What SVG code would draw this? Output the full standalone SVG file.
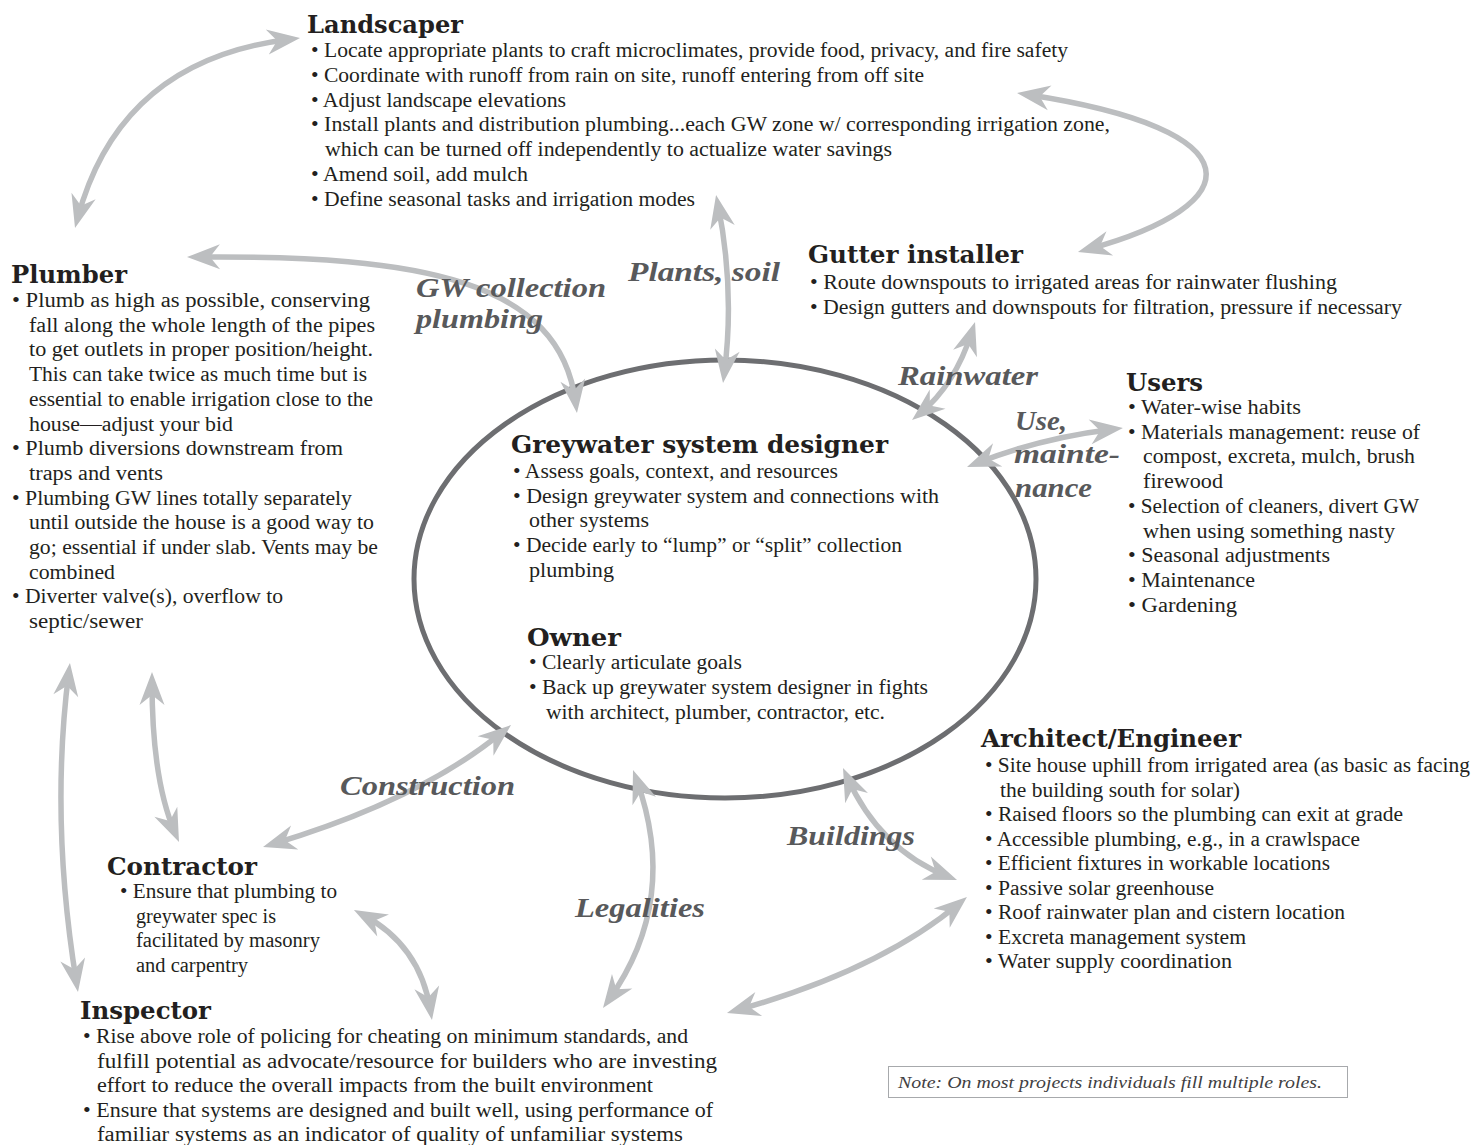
<svg xmlns="http://www.w3.org/2000/svg" width="1483" height="1145" viewBox="0 0 1483 1145">
<style>
.b{font-family:"Liberation Serif","DejaVu Serif",serif;font-size:20.5px;fill:#231f20}
.h{font-family:"DejaVu Serif","Liberation Serif",serif;font-weight:bold;font-size:25px;fill:#231f20}
.l{font-family:"Liberation Serif","DejaVu Serif",serif;font-weight:bold;font-style:italic;font-size:28px;fill:#58595b}
.n{font-family:"Liberation Serif","DejaVu Serif",serif;font-style:italic;font-size:17px;fill:#414042}
.c{fill:none;stroke:#bcbec0;stroke-width:5.5;marker-start:url(#ah);marker-end:url(#ah)}
</style>
<defs>
<marker id="ah" markerUnits="userSpaceOnUse" viewBox="-36 -16 40 32" markerWidth="40" markerHeight="32" refX="-10" refY="0" orient="auto-start-reverse" overflow="visible">
<path d="M0,0 L-33,-12.5 L-23,0 L-33,12.5 Z" fill="#bcbec0"/>
</marker>
</defs>
<rect width="1483" height="1145" fill="#ffffff"/>
<g id="center">
<ellipse cx="725" cy="579" rx="311" ry="219" fill="none" stroke="#6d6e71" stroke-width="5"/>
</g>
<g id="connectors">
<path class="c" d="M77.6,218.3 Q120,60 290.1,39.2"/>
<path class="c" d="M1026.9,94.5 C1260,130 1250,205 1087.6,249.4"/>
<path class="c" d="M197,257 C420,255 560,280 575.7,403"/>
<path class="c" d="M718,204.8 Q735,290 724.3,373"/>
<path class="c" d="M972,331.5 Q955,385 919.8,413.7"/>
<path class="c" d="M976.3,463.3 Q1040,438 1113,429.2"/>
<path class="c" d="M152,682 Q152,780 175,832.8"/>
<path class="c" d="M68.7,672.9 Q50,820 76.4,982.1"/>
<path class="c" d="M272.6,844.1 Q420,800 503.3,731.4"/>
<path class="c" d="M362.8,914.7 Q420,945 430.4,1010.1"/>
<path class="c" d="M636.4,779.4 Q680,900 608.8,999.9"/>
<path class="c" d="M847.1,777.1 Q880,850 947.7,876.4"/>
<path class="c" d="M736.6,1010.3 Q880,970 959.3,903.4"/>
</g>
<g id="connector-labels">
<text class="l" x="416" y="297" textLength="190" lengthAdjust="spacingAndGlyphs">GW collection</text>
<text class="l" x="416" y="328" textLength="127" lengthAdjust="spacingAndGlyphs">plumbing</text>
<text class="l" x="628" y="281" textLength="152" lengthAdjust="spacingAndGlyphs">Plants, soil</text>
<text class="l" x="898" y="385" textLength="140" lengthAdjust="spacingAndGlyphs">Rainwater</text>
<text class="l" x="1015" y="430" textLength="52" lengthAdjust="spacingAndGlyphs">Use,</text>
<text class="l" x="1014" y="463" textLength="106" lengthAdjust="spacingAndGlyphs">mainte-</text>
<text class="l" x="1015" y="497" textLength="77" lengthAdjust="spacingAndGlyphs">nance</text>
<text class="l" x="340" y="795" textLength="175" lengthAdjust="spacingAndGlyphs">Construction</text>
<text class="l" x="787" y="845" textLength="128" lengthAdjust="spacingAndGlyphs">Buildings</text>
<text class="l" x="575" y="917" textLength="130" lengthAdjust="spacingAndGlyphs">Legalities</text>
</g>
<g id="landscaper">
<text class="h" x="307" y="33" textLength="156" lengthAdjust="spacingAndGlyphs">Landscaper</text>
<text class="b" x="311" y="57" textLength="757" lengthAdjust="spacingAndGlyphs">• Locate appropriate plants to craft microclimates, provide food, privacy, and fire safety</text>
<text class="b" x="311" y="82" textLength="613" lengthAdjust="spacingAndGlyphs">• Coordinate with runoff from rain on site, runoff entering from off site</text>
<text class="b" x="311" y="106.5" textLength="255" lengthAdjust="spacingAndGlyphs">• Adjust landscape elevations</text>
<text class="b" x="311" y="131" textLength="799" lengthAdjust="spacingAndGlyphs">• Install plants and distribution plumbing...each GW zone w/ corresponding irrigation zone,</text>
<text class="b" x="325" y="156" textLength="567" lengthAdjust="spacingAndGlyphs">which can be turned off independently to actualize water savings</text>
<text class="b" x="311" y="181" textLength="217" lengthAdjust="spacingAndGlyphs">• Amend soil, add mulch</text>
<text class="b" x="311" y="205.5" textLength="384" lengthAdjust="spacingAndGlyphs">• Define seasonal tasks and irrigation modes</text>
</g>
<g id="plumber">
<text class="h" x="11" y="283" textLength="116" lengthAdjust="spacingAndGlyphs">Plumber</text>
<text class="b" x="12" y="307" textLength="358" lengthAdjust="spacingAndGlyphs">• Plumb as high as possible, conserving</text>
<text class="b" x="29" y="331.7" textLength="346" lengthAdjust="spacingAndGlyphs">fall along the whole length of the pipes</text>
<text class="b" x="29" y="356.4" textLength="344" lengthAdjust="spacingAndGlyphs">to get outlets in proper position/height.</text>
<text class="b" x="29" y="381.1" textLength="338" lengthAdjust="spacingAndGlyphs">This can take twice as much time but is</text>
<text class="b" x="29" y="405.8" textLength="344" lengthAdjust="spacingAndGlyphs">essential to enable irrigation close to the</text>
<text class="b" x="29" y="430.5" textLength="204" lengthAdjust="spacingAndGlyphs">house—adjust your bid</text>
<text class="b" x="12" y="455.2" textLength="331" lengthAdjust="spacingAndGlyphs">• Plumb diversions downstream from</text>
<text class="b" x="29" y="479.9" textLength="134" lengthAdjust="spacingAndGlyphs">traps and vents</text>
<text class="b" x="12" y="504.6" textLength="340" lengthAdjust="spacingAndGlyphs">• Plumbing GW lines totally separately</text>
<text class="b" x="29" y="529.3" textLength="345" lengthAdjust="spacingAndGlyphs">until outside the house is a good way to</text>
<text class="b" x="29" y="554" textLength="349" lengthAdjust="spacingAndGlyphs">go; essential if under slab. Vents may be</text>
<text class="b" x="29" y="578.7" textLength="86" lengthAdjust="spacingAndGlyphs">combined</text>
<text class="b" x="12" y="603.4" textLength="271" lengthAdjust="spacingAndGlyphs">• Diverter valve(s), overflow to</text>
<text class="b" x="29" y="628.1" textLength="114" lengthAdjust="spacingAndGlyphs">septic/sewer</text>
</g>
<g id="gutter-installer">
<text class="h" x="808" y="263" textLength="215" lengthAdjust="spacingAndGlyphs">Gutter installer</text>
<text class="b" x="810" y="289" textLength="527" lengthAdjust="spacingAndGlyphs">• Route downspouts to irrigated areas for rainwater flushing</text>
<text class="b" x="810" y="313.5" textLength="592" lengthAdjust="spacingAndGlyphs">• Design gutters and downspouts for filtration, pressure if necessary</text>
</g>
<g id="users">
<text class="h" x="1126" y="391" textLength="77" lengthAdjust="spacingAndGlyphs">Users</text>
<text class="b" x="1128" y="414" textLength="173" lengthAdjust="spacingAndGlyphs">• Water-wise habits</text>
<text class="b" x="1128" y="438.5" textLength="292" lengthAdjust="spacingAndGlyphs">• Materials management: reuse of</text>
<text class="b" x="1143" y="463" textLength="272" lengthAdjust="spacingAndGlyphs">compost, excreta, mulch, brush</text>
<text class="b" x="1143" y="488" textLength="80" lengthAdjust="spacingAndGlyphs">firewood</text>
<text class="b" x="1128" y="513" textLength="291" lengthAdjust="spacingAndGlyphs">• Selection of cleaners, divert GW</text>
<text class="b" x="1143" y="537.5" textLength="252" lengthAdjust="spacingAndGlyphs">when using something nasty</text>
<text class="b" x="1128" y="562" textLength="202" lengthAdjust="spacingAndGlyphs">• Seasonal adjustments</text>
<text class="b" x="1128" y="587" textLength="127" lengthAdjust="spacingAndGlyphs">• Maintenance</text>
<text class="b" x="1128" y="611.5" textLength="109" lengthAdjust="spacingAndGlyphs">• Gardening</text>
</g>
<g id="designer">
<text class="h" x="511" y="453" textLength="377" lengthAdjust="spacingAndGlyphs">Greywater system designer</text>
<text class="b" x="513" y="478" textLength="325" lengthAdjust="spacingAndGlyphs">• Assess goals, context, and resources</text>
<text class="b" x="513" y="502.5" textLength="426" lengthAdjust="spacingAndGlyphs">• Design greywater system and connections with</text>
<text class="b" x="529" y="527" textLength="120" lengthAdjust="spacingAndGlyphs">other systems</text>
<text class="b" x="513" y="552" textLength="389" lengthAdjust="spacingAndGlyphs">• Decide early to “lump” or “split” collection</text>
<text class="b" x="529" y="576.5" textLength="85" lengthAdjust="spacingAndGlyphs">plumbing</text>
</g>
<g id="owner">
<text class="h" x="527" y="646" textLength="94" lengthAdjust="spacingAndGlyphs">Owner</text>
<text class="b" x="529" y="669" textLength="213" lengthAdjust="spacingAndGlyphs">• Clearly articulate goals</text>
<text class="b" x="529" y="694" textLength="399" lengthAdjust="spacingAndGlyphs">• Back up greywater system designer in fights</text>
<text class="b" x="546" y="718.5" textLength="339" lengthAdjust="spacingAndGlyphs">with architect, plumber, contractor, etc.</text>
</g>
<g id="architect-engineer">
<text class="h" x="981" y="747" textLength="260" lengthAdjust="spacingAndGlyphs">Architect/Engineer</text>
<text class="b" x="985" y="772" textLength="485" lengthAdjust="spacingAndGlyphs">• Site house uphill from irrigated area (as basic as facing</text>
<text class="b" x="1000" y="796.5" textLength="240" lengthAdjust="spacingAndGlyphs">the building south for solar)</text>
<text class="b" x="985" y="821" textLength="418" lengthAdjust="spacingAndGlyphs">• Raised floors so the plumbing can exit at grade</text>
<text class="b" x="985" y="845.5" textLength="375" lengthAdjust="spacingAndGlyphs">• Accessible plumbing, e.g., in a crawlspace</text>
<text class="b" x="985" y="870" textLength="345" lengthAdjust="spacingAndGlyphs">• Efficient fixtures in workable locations</text>
<text class="b" x="985" y="894.5" textLength="229" lengthAdjust="spacingAndGlyphs">• Passive solar greenhouse</text>
<text class="b" x="985" y="919" textLength="360" lengthAdjust="spacingAndGlyphs">• Roof rainwater plan and cistern location</text>
<text class="b" x="985" y="943.5" textLength="261" lengthAdjust="spacingAndGlyphs">• Excreta management system</text>
<text class="b" x="985" y="968" textLength="247" lengthAdjust="spacingAndGlyphs">• Water supply coordination</text>
</g>
<g id="contractor">
<text class="h" x="107" y="875" textLength="150" lengthAdjust="spacingAndGlyphs">Contractor</text>
<text class="b" x="120" y="898" textLength="217" lengthAdjust="spacingAndGlyphs">• Ensure that plumbing to</text>
<text class="b" x="136" y="922.5" textLength="140" lengthAdjust="spacingAndGlyphs">greywater spec is</text>
<text class="b" x="136" y="947" textLength="184" lengthAdjust="spacingAndGlyphs">facilitated by masonry</text>
<text class="b" x="136" y="971.5" textLength="112" lengthAdjust="spacingAndGlyphs">and carpentry</text>
</g>
<g id="inspector">
<text class="h" x="80" y="1019" textLength="131" lengthAdjust="spacingAndGlyphs">Inspector</text>
<text class="b" x="83" y="1043" textLength="605" lengthAdjust="spacingAndGlyphs">• Rise above role of policing for cheating on minimum standards, and</text>
<text class="b" x="97" y="1067.5" textLength="620" lengthAdjust="spacingAndGlyphs">fulfill potential as advocate/resource for builders who are investing</text>
<text class="b" x="97" y="1092" textLength="556" lengthAdjust="spacingAndGlyphs">effort to reduce the overall impacts from the built environment</text>
<text class="b" x="83" y="1116.5" textLength="630" lengthAdjust="spacingAndGlyphs">• Ensure that systems are designed and built well, using performance of</text>
<text class="b" x="97" y="1141" textLength="586" lengthAdjust="spacingAndGlyphs">familiar systems as an indicator of quality of unfamiliar systems</text>
</g>
<g id="note">
<rect x="888.5" y="1066.5" width="459" height="31" fill="none" stroke="#a7a9ac" stroke-width="1"/>
<text class="n" x="898" y="1088" textLength="424" lengthAdjust="spacingAndGlyphs">Note: On most projects individuals fill multiple roles.</text>
</g>
</svg>
